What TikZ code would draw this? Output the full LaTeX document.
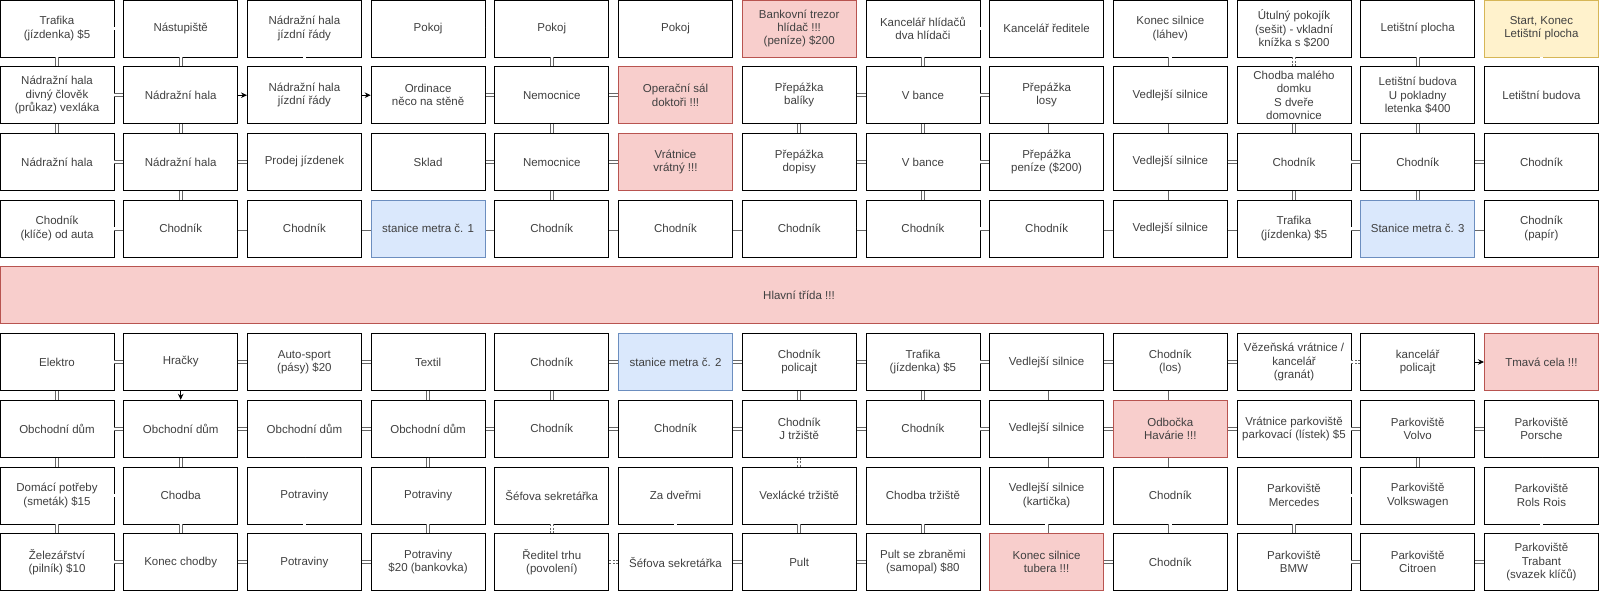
\documentclass[tikz,border=0pt]{standalone}
\usepackage{fontspec}
\setmainfont{Liberation Sans}
\usetikzlibrary{arrows.meta}
\definecolor{alarmfill}{HTML}{F8CECC}
\definecolor{alarmline}{HTML}{B85450}
\definecolor{metrofill}{HTML}{DAE8FC}
\definecolor{metroline}{HTML}{6C8EBF}
\definecolor{startfill}{HTML}{FFF2CC}
\definecolor{startline}{HTML}{D6B656}
\tikzset{
  room/.style={draw=black, fill=white, line width=.8pt, minimum width=114pt, minimum height=57pt,
    inner sep=1pt, align=center, text=black!75, font=\fontsize{11.5}{13.3}\selectfont},
  alarm/.style={room, draw=alarmline, fill=alarmfill},
  metro/.style={room, draw=metroline, fill=metrofill},
  start/.style={room, draw=startline, fill=startfill},
  link/.style={draw=black!60, double=white, double distance=2.4pt, line width=.7pt},
  dlink/.style={link, dash pattern=on 2pt off 1.5pt},
  go/.style={draw=black, line width=.8pt, -{Stealth[length=6pt,width=5.5pt]}}
}
\begin{document}
\begin{tikzpicture}[x=1pt,y=1pt]
            \def\dx{123.7} \def\dy{66.7}
            \useasboundingbox (0,0) rectangle (1600,-591);
            % horni cast
            \foreach \s/\t [count=\i from 0] in {room/{Trafika\\(jízdenka) \$5}, room/Nástupiště, room/{Nádražní hala\\jízdní řády}, room/Pokoj, room/Pokoj, room/Pokoj, alarm/{Bankovní trezor\\hlídač !!!\\(peníze) \$200}, room/{Kancelář hlídačů\\dva hlídači}, room/{Kancelář ředitele}, room/{Konec silnice\\(láhev)}, room/{Útulný pokojík\\(sešit) - vkladní\\knížka s \$200}, room/{Letištní plocha}, start/{Start, Konec\\Letištní plocha}}
                \node[\s] (a\i) at ({57+\i*\dx},{-28.5}) {\t};
            \foreach \s/\t [count=\i from 0] in {room/{Nádražní hala\\divný člověk\\(průkaz) vexláka}, room/{Nádražní hala}, room/{Nádražní hala\\jízdní řády}, room/{Ordinace\\něco na stěně}, room/Nemocnice, alarm/{Operační sál\\doktoři !!!}, room/{Přepážka\\balíky}, room/{V bance}, room/{Přepážka\\losy}, room/{Vedlejší silnice}, room/{Chodba malého\\domku\\S dveře\\domovnice}, room/{Letištní budova\\U pokladny\\letenka \$400}, room/{Letištní budova}}
                \node[\s] (b\i) at ({57+\i*\dx},{-28.5-\dy}) {\t};
            \foreach \s/\t [count=\i from 0] in {room/{Nádražní hala}, room/{Nádražní hala}, room/{Prodej jízdenek}, room/Sklad, room/Nemocnice, alarm/{Vrátnice\\vrátný !!!}, room/{Přepážka\\dopisy}, room/{V bance}, room/{Přepážka\\peníze (\$200)}, room/{Vedlejší silnice}, room/Chodník, room/Chodník, room/Chodník}
                \node[\s] (c\i) at ({57+\i*\dx},{-28.5-2*\dy}) {\t};
            \foreach \s/\t [count=\i from 0] in {room/{Chodník\\(klíče) od auta}, room/Chodník, room/Chodník, metro/{stanice metra č. 1}, room/Chodník, room/Chodník, room/Chodník, room/Chodník, room/Chodník, room/{Vedlejší silnice}, room/{Trafika\\(jízdenka) \$5}, metro/{Stanice metra č. 3}, room/{Chodník\\(papír)}}
                \node[\s] (d\i) at ({57+\i*\dx},{-28.5-3*\dy}) {\t};
            % hlavni trida
            \node[alarm, minimum width=1598pt] (main) at (799,{-28.5-4*\dy}) {Hlavní třída !!!};
            % dolni cast
            \foreach \s/\t [count=\i from 0] in {room/Elektro, room/Hračky, room/{Auto-sport\\(pásy) \$20}, room/Textil, room/Chodník, metro/{stanice metra č. 2}, room/{Chodník\\policajt}, room/{Trafika\\(jízdenka) \$5}, room/{Vedlejší silnice}, room/{Chodník\\(los)}, room/{Vězeňská vrátnice /\\kancelář\\(granát)}, room/{kancelář\\policajt}, alarm/{Tmavá cela !!!}}
                \node[\s] (e\i) at ({57+\i*\dx},{-28.5-5*\dy}) {\t};
            \foreach \s/\t [count=\i from 0] in {room/{Obchodní dům}, room/{Obchodní dům}, room/{Obchodní dům}, room/{Obchodní dům}, room/Chodník, room/Chodník, room/{Chodník\\J tržiště}, room/Chodník, room/{Vedlejší silnice}, alarm/{Odbočka\\Havárie !!!}, room/{Vrátnice parkoviště\\parkovací (lístek) \$5}, room/{Parkoviště\\Volvo}, room/{Parkoviště\\Porsche}}
                \node[\s] (f\i) at ({57+\i*\dx},{-28.5-6*\dy}) {\t};
            \foreach \s/\t [count=\i from 0] in {room/{Domácí potřeby\\(smeták) \$15}, room/Chodba, room/Potraviny, room/Potraviny, room/{Šéfova sekretářka}, room/{Za dveřmi}, room/{Vexlácké tržiště}, room/{Chodba tržiště}, room/{Vedlejší silnice\\(kartička)}, room/Chodník, room/{Parkoviště\\Mercedes}, room/{Parkoviště\\Volkswagen}, room/{Parkoviště\\Rols Rois}}
                \node[\s] (g\i) at ({57+\i*\dx},{-28.5-7*\dy}) {\t};
            \foreach \s/\t [count=\i from 0] in {room/{Železářství\\(pilník) \$10}, room/{Konec chodby}, room/Potraviny, room/{Potraviny\\\$20 (bankovka)}, room/{Ředitel trhu\\(povolení)}, room/{Šéfova sekretářka}, room/Pult, room/{Pult se zbraněmi\\(samopal) \$80}, alarm/{Konec silnice\\tubera !!!}, room/Chodník, room/{Parkoviště\\BMW}, room/{Parkoviště\\Citroen}, room/{Parkoviště\\Trabant\\(svazek klíčů)}}
                \node[\s] (h\i) at ({57+\i*\dx},{-28.5-8*\dy}) {\t};
            % spojeni
            \foreach \p/\q in {a0/a1, a1/a2, a3/a4, a4/a5, a6/a7, a7/a8, a11/a12,
                b0/b1, b3/b4, b4/b5, b6/b7, b7/b8,
                c0/c1, c1/c2, c3/c4, c4/c5, c6/c7, c7/c8, c9/c10, c10/c11, c11/c12,
                d0/d1, d1/d2, d2/d3, d3/d4, d4/d5, d5/d6, d6/d7, d7/d8, d8/d9, d9/d10, d10/d11, d11/d12,
                a0/b0, b0/c0, a1/b1, b1/c1, c1/d1, a2/b2, b2/c2, a4/b4, b4/c4, c4/d4, b6/c6,
                a7/b7, b7/c7, c7/d7, b8/c8, a9/b9, b9/c9, c9/d9, b10/c10, c10/d10,
                a11/b11, b11/c11, c11/d11, a12/b12, b12/c12, c12/d12,
                e0/e1, e1/e2, e2/e3, e4/e5, e5/e6, e6/e7, e7/e8, e8/e9, e9/e10,
                f0/f1, f1/f2, f2/f3, f3/f4, f4/f5, f5/f6, f6/f7, f7/f8, f8/f9, f9/f10, f10/f11, f11/f12,
                g0/g1, g1/g2, g2/g3, g4/g5, g5/g6, g6/g7, g8/g9, g10/g11, g11/g12,
                h0/h1, h1/h2, h2/h3, h5/h6, h6/h7, h8/h9, h10/h11, h11/h12,
                e0/f0, f0/g0, g0/h0, f1/g1, g1/h1, e2/f2, f2/g2, g2/h2, e3/f3, f3/g3, g3/h3,
                e4/f4, e5/f5, g5/h5, e6/f6, g6/h6, e7/f7, g7/h7, e8/f8, f8/g8, g8/h8,
                e9/f9, f9/g9, g9/h9, g10/h10, f11/g11, f12/g12, g12/h12}
                \draw[link] (\p) -- (\q);
            \foreach \p/\q in {a10/b10, e10/e11, h4/h5, g4/h4, f6/g6}
                \draw[dlink] (\p) -- (\q);
            \draw[go] (b1) -- (b2);
            \draw[go] (b2) -- (b3);
            \draw[go] (e1) -- (f1);
            \draw[go] (e11) -- (e12);
        \end{tikzpicture}
\end{document}
